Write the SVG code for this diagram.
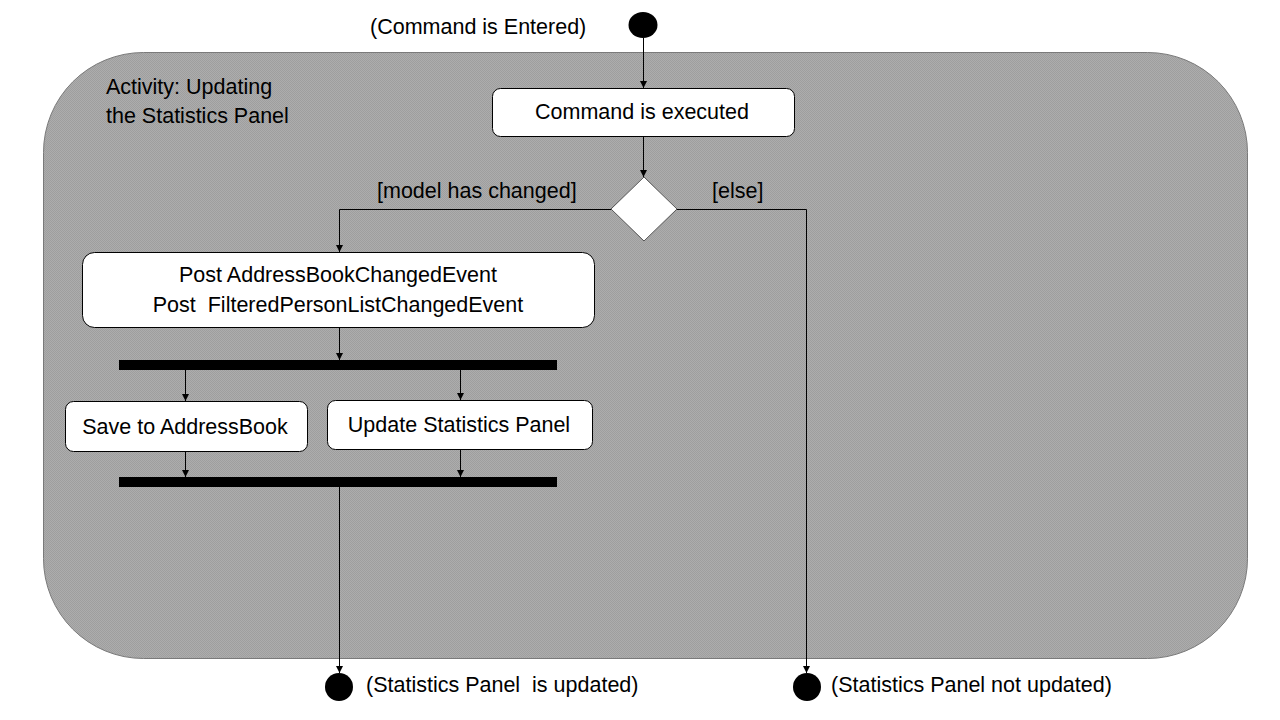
<svg xmlns="http://www.w3.org/2000/svg" width="1280" height="720" viewBox="0 0 1280 720">
<defs>
<pattern id="dots" width="2" height="2" patternUnits="userSpaceOnUse">
<rect width="2" height="2" fill="#adadad"/>
<rect width="1" height="1" fill="#9e9e9e"/>
<rect x="1" y="1" width="1" height="1" fill="#9e9e9e"/>
</pattern>
<marker id="arr" viewBox="0 0 10 10" refX="10" refY="5" markerWidth="7" markerHeight="7" markerUnits="userSpaceOnUse" orient="auto">
<path d="M0,0 L10,5 L0,10 z" fill="#000"/>
</marker>
<style>
text{font-family:"Liberation Sans",Arial,sans-serif;font-size:21.5px;fill:#000}
.c{text-anchor:middle}
.act{fill:#fff;stroke:#000;stroke-width:1}
.bar{fill:#000}
.dot{fill:#000}
.ln{fill:none;stroke:#000;stroke-width:1}
</style>
</defs>
<rect width="1280" height="720" fill="#fff"/>
<g id="activity-frame">
<rect x="43.5" y="52.5" width="1204" height="606" rx="100" ry="100" fill="url(#dots)" stroke="#7a7a7a" stroke-width="1"/>
<text x="106" y="94">Activity: Updating</text>
<text x="106" y="123">the Statistics Panel</text>
</g>
<g id="start">
<ellipse class="dot" cx="643" cy="25" rx="14.5" ry="13"/>
<text x="370" y="34">(Command is Entered)</text>
</g>
<g id="command-executed">
<rect class="act" x="492.5" y="88.5" width="302" height="48" rx="8"/>
<text class="c" x="642" y="119">Command is executed</text>
</g>
<g id="decision">
<polygon points="611,209 644,177 677,209 644,241" fill="#fff" stroke="#555" stroke-width="1"/>
<text x="377" y="198">[model has changed]</text>
<text x="712" y="198">[else]</text>
</g>
<g id="post-events">
<rect class="act" x="82.5" y="252.5" width="512" height="75" rx="12"/>
<text class="c" x="338" y="282">Post AddressBookChangedEvent</text>
<text class="c" x="338" y="312" xml:space="preserve">Post  FilteredPersonListChangedEvent</text>
</g>
<g id="fork">
<rect class="bar" x="119" y="360" width="438" height="10"/>
</g>
<g id="save-addressbook">
<rect class="act" x="65.5" y="401.5" width="242" height="50" rx="8"/>
<text class="c" x="185" y="434">Save to AddressBook</text>
</g>
<g id="update-panel">
<rect class="act" x="327.5" y="400.5" width="265" height="49" rx="8"/>
<text class="c" x="459" y="432">Update Statistics Panel</text>
</g>
<g id="join">
<rect class="bar" x="119" y="477" width="438" height="10"/>
</g>
<g id="end-updated">
<ellipse class="dot" cx="339" cy="687" rx="14" ry="14"/>
<text x="366" y="692" xml:space="preserve">(Statistics Panel  is updated)</text>
</g>
<g id="end-not-updated">
<ellipse class="dot" cx="807" cy="687" rx="14" ry="14"/>
<text x="831" y="692">(Statistics Panel not updated)</text>
</g>
<g id="connectors">
<path class="ln" d="M643.5,38 V88" marker-end="url(#arr)"/>
<path class="ln" d="M643.5,137 V177" marker-end="url(#arr)"/>
<path class="ln" d="M611,209.5 H339.5 V252" marker-end="url(#arr)"/>
<path class="ln" d="M677,209.5 H806.5 V673" marker-end="url(#arr)"/>
<path class="ln" d="M339.5,328 V360" marker-end="url(#arr)"/>
<path class="ln" d="M185.5,370 V401" marker-end="url(#arr)"/>
<path class="ln" d="M460.5,370 V400" marker-end="url(#arr)"/>
<path class="ln" d="M185.5,452 V477" marker-end="url(#arr)"/>
<path class="ln" d="M460.5,450 V477" marker-end="url(#arr)"/>
<path class="ln" d="M339.5,487 V673" marker-end="url(#arr)"/>
</g>
</svg>
